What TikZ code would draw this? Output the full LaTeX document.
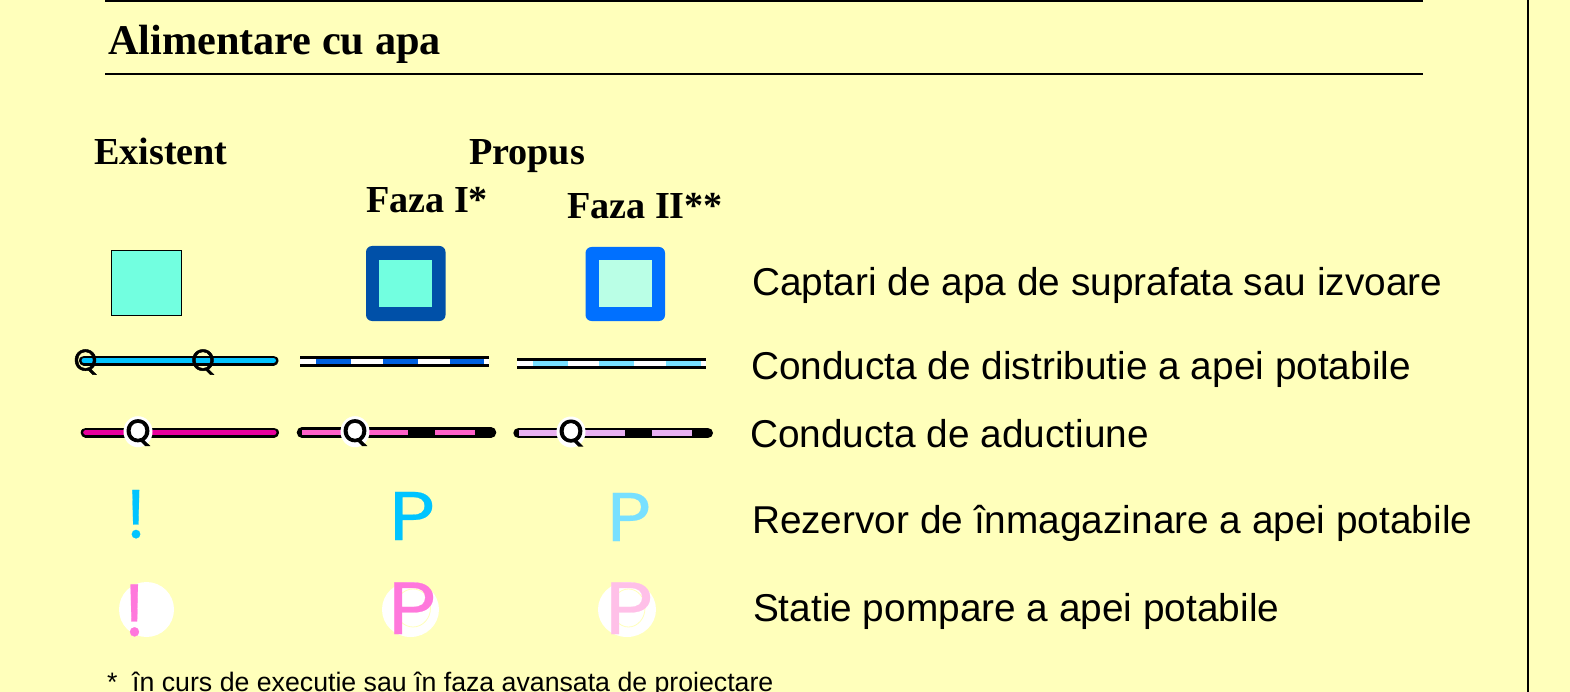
\documentclass[tikz,border=0pt]{standalone}
\usepackage{fontspec}
\usetikzlibrary{shapes.geometric}
\setmainfont{Liberation Sans}
\newfontfamily\serifb[Ligatures=TeX]{Liberation Serif}
\newfontfamily\glyphf[FakeBold=0.3]{Poppins}
\newfontfamily\qthin[FakeBold=1.5]{Poppins}
\newfontfamily\qbold[FakeBold=3.5]{Poppins}
\definecolor{bgy}{HTML}{FFFFBB}
\definecolor{aqua}{HTML}{72FFE0}
\definecolor{aqualt}{HTML}{BAFFE6}
\definecolor{navy}{HTML}{0050A8}
\definecolor{azure}{HTML}{0070FF}
\definecolor{cyanb}{HTML}{00C4FF}
\definecolor{cyanl}{HTML}{78E0FF}
\definecolor{blued}{HTML}{0060E0}
\definecolor{magd}{HTML}{E8009C}
\definecolor{pinkm}{HTML}{FF60C8}
\definecolor{lilac}{HTML}{E8B0F0}
\definecolor{pinkb}{HTML}{FF78DC}
\definecolor{pinkl}{HTML}{FFC0E8}
\tikzset{x=1pt,y=-1pt,
 txt/.style={anchor=base west,inner sep=0pt,outer sep=0pt,font=\fontsize{38.8}{38.8}\selectfont},
 hdr/.style={anchor=base west,inner sep=0pt,outer sep=0pt,font=\fontsize{38.2}{38.2}\selectfont\serifb\bfseries},
 rule/.style={draw=black,line width=2.7pt},
 pipe/.style={line width=10pt,line cap=round},
 pipei/.style={line width=5pt,line cap=round},
 qlight/.style={inner sep=0pt,text=black,font=\fontsize{30}{30}\selectfont\qthin},
 qheavy/.style={inner sep=0pt,text=black,font=\fontsize{31}{31}\selectfont\qbold},
 halo/.style={ellipse,fill=white,minimum width=29pt,minimum height=31pt,inner sep=0pt},
 glyph/.style={anchor=base,inner sep=0pt,font=\fontsize{69}{69}\selectfont\glyphf},
 glyphb/.style={anchor=base,inner sep=0pt,font=\fontsize{74}{74}\selectfont\glyphf},
 spot/.style={ellipse,fill=white,minimum height=55pt,inner sep=0pt},
 ring/.style={ellipse,draw=bgy,line width=.8pt,minimum height=38pt,inner sep=0pt},
}
\begin{document}
\begin{tikzpicture}
\useasboundingbox (0,0) rectangle (1570,692);
\fill[bgy] (0,0) rectangle (1570,692);
\coordinate (v1) at (1528,0); \coordinate (v2) at (1528,692);
\draw[black,line width=2.7pt] (v1) -- (v2);
\coordinate (t1) at (105,0.5); \coordinate (t2) at (1423,0.5);
\coordinate (t3) at (105,74); \coordinate (t4) at (1423,74);
\draw[rule] (t1) -- (t2);
\draw[rule] (t3) -- (t4);
\node[hdr,font=\fontsize{42.3}{42.3}\selectfont\serifb\bfseries] (title) at (108,55) {Alimentare cu apa};
\node[hdr] (h1) at (94,165) {Existent};
\node[hdr] (h2) at (469,165) {Propus};
\node[hdr] (h3) at (366,213) {Faza I*};
\node[hdr] (h4) at (567,219) {Faza II**};
% squares
\node[draw=black,line width=1.2pt,fill=aqua,minimum width=69.5pt,minimum height=65pt,inner sep=0pt] (s1) at (146.6,283.3) {};
\fill[navy,rounded corners=6pt] (366,246) rectangle (445.5,321);
\node[fill=aqua,minimum width=53pt,minimum height=47pt,inner sep=0pt] (s2) at (405.5,283.5) {};
\fill[azure,rounded corners=6pt] (585.5,247) rectangle (665,321);
\node[fill=aqualt,minimum width=53pt,minimum height=47pt,inner sep=0pt] (s3) at (625.2,283.7) {};
% distribution row
\draw[black,pipe] (84,360.5) -- (273.5,360.5);
\draw[cyanb,pipei] (84,360.5) -- (273.5,360.5);
\node[qlight] (q1) at (85.5,362) {Q};
\node[qlight] (q2) at (203,362) {Q};
% dashed pipes
\fill[black] (300.3,356) rectangle (489,366.7);
\fill[white] (300.3,358.7) rectangle (489,364);
\foreach \a in {316.3,383,449.7}{\fill[blued] (\a,358.7) rectangle ++(34.5,5.3);}
\fill[black] (516.7,357.5) rectangle (705.7,368.5);
\fill[white] (516.7,360.5) rectangle (705.7,365.7);
\foreach \a in {533,599.3,666}{\fill[cyanl] (\a,360.5) rectangle ++(34.5,5.2);}
% aduction row
\draw[black,pipe] (85.7,432.5) -- (274,432.5);
\draw[magd,pipei] (85.7,432.5) -- (274,432.5);
\draw[black,pipe,line width=10.6pt] (302,432.5) -- (491,432.5);
\draw[pinkm,line width=5.3pt] (302.3,432.5) -- (408.3,432.5);
\draw[pinkm,line width=5.3pt] (435.3,432.5) -- (475,432.5);
\draw[black,pipe,line width=10.6pt] (518.6,433) -- (707.7,433);
\draw[lilac,line width=5.3pt] (518.7,433) -- (625.3,433);
\draw[lilac,line width=5.3pt] (651.7,433) -- (692,433);
\foreach \n/\x/\y in {q3/138/431.7,q4/355/431.7,q5/571/432}{
 \node[halo] (\n) at (\x,\y) {};
 \node[qheavy] at (\x,\y+1) {Q};
}
% reservoir glyphs
\node[glyph,text=cyanb] (r1) at (136,538) {!};
\node[glyph,text=cyanb] (r2) at (412,540) {\scalebox{1.15}[1]{P}};
\node[glyph,text=cyanl] (r3) at (629,541) {\scalebox{1.1}[1]{P}};
% pump glyphs
\node[spot,minimum width=55pt] (c1) at (146.5,609.5) {};
\node[spot,minimum width=57pt] (c2) at (410.5,609.5) {};
\node[spot,minimum width=58pt] (c3) at (627,609.5) {};
\node[ring,minimum width=35pt] (e2) at (413,608) {};
\node[ring,minimum width=33pt] (e3) at (628.5,608) {};
\node[glyphb,text=pinkb] (p1) at (134.5,636) {!};
\node[glyphb,text=pinkb] (p2) at (412,634) {\scalebox{1.12}[1]{P}};
\node[glyphb,text=pinkl] (p3) at (629,634) {\scalebox{1.12}[1]{P}};
% labels
\node[txt] (l1) at (752,296) {Captari de apa de suprafata sau izvoare};
\node[txt] (l2) at (751,379) {Conducta de distributie a apei potabile};
\node[txt] (l3) at (750,447) {Conducta de aductiune};
\node[txt] (l4) at (752,533) {Rezervor de înmagazinare a apei potabile};
\node[txt] (l5) at (753,621) {Statie pompare a apei potabile};
\node[txt,font=\fontsize{26.7}{26.7}\selectfont] (fn) at (107,691) {*\ \ în curs de executie sau în faza avansata de proiectare};
\end{tikzpicture}
\end{document}
